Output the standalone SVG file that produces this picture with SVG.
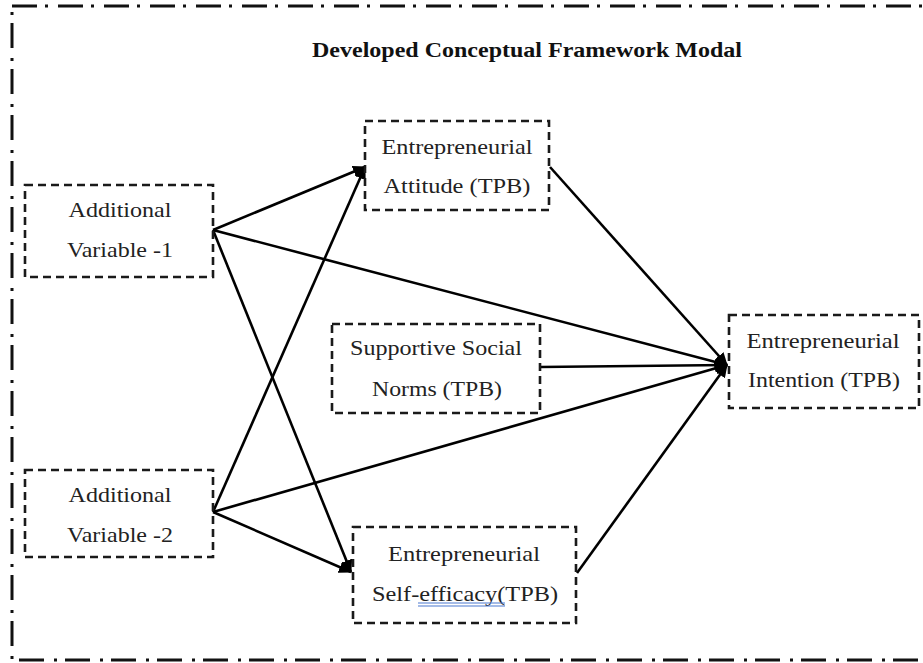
<svg xmlns="http://www.w3.org/2000/svg" width="923" height="663" viewBox="0 0 923 663">
<style>
.frame{fill:none;stroke:#111;stroke-width:3;stroke-dasharray:25 8 3 10}
.box{fill:none;stroke:#1a1a1a;stroke-width:2.6;stroke-dasharray:8 5}
.lbl{font-family:"Liberation Serif","Times New Roman",serif;font-size:22px;fill:#222;text-anchor:middle}
.title{font-family:"Liberation Serif","Times New Roman",serif;font-size:21px;font-weight:bold;fill:#111;text-anchor:middle}
.edge{stroke:#000;stroke-width:2.6;fill:none;marker-end:url(#ah)}
.ul{stroke:#4a78d0;stroke-width:1.2}
</style>
<defs>
<marker id="ah" markerUnits="userSpaceOnUse" markerWidth="14" markerHeight="12" refX="12" refY="6" orient="auto">
<path d="M0,0 L13,6 L0,12 z" fill="#000"/>
</marker>
</defs>
<rect width="923" height="663" fill="#fff"/>
<rect class="frame" x="12" y="6" width="1000" height="654"/>
<text class="title" x="527" y="57" textLength="430" lengthAdjust="spacingAndGlyphs">Developed Conceptual Framework Modal</text>
<g id="connectors">
<line class="edge" x1="213" y1="230" x2="365" y2="167"/>
<line class="edge" x1="213" y1="230" x2="727" y2="365"/>
<line class="edge" x1="213" y1="230" x2="351" y2="572"/>
<line class="edge" x1="213" y1="512" x2="365" y2="167"/>
<line class="edge" x1="213" y1="512" x2="727" y2="365"/>
<line class="edge" x1="213" y1="512" x2="351" y2="572"/>
<line class="edge" x1="550" y1="167" x2="727" y2="365"/>
<line class="edge" x1="540" y1="367" x2="727" y2="365"/>
<line class="edge" x1="577" y1="573" x2="727" y2="365"/>
</g>
<g id="av1">
<rect class="box" x="25" y="185" width="188" height="92"/>
<text class="lbl" x="120" y="217" textLength="103" lengthAdjust="spacingAndGlyphs">Additional</text>
<text class="lbl" x="120" y="257" textLength="106" lengthAdjust="spacingAndGlyphs">Variable -1</text>
</g>
<g id="av2">
<rect class="box" x="25" y="470" width="188" height="87"/>
<text class="lbl" x="120" y="502" textLength="103" lengthAdjust="spacingAndGlyphs">Additional</text>
<text class="lbl" x="120" y="542" textLength="106" lengthAdjust="spacingAndGlyphs">Variable -2</text>
</g>
<g id="attitude">
<rect class="box" x="365" y="121" width="184" height="89"/>
<text class="lbl" x="457" y="154" textLength="151" lengthAdjust="spacingAndGlyphs">Entrepreneurial</text>
<text class="lbl" x="457" y="193" textLength="147" lengthAdjust="spacingAndGlyphs">Attitude (TPB)</text>
</g>
<g id="norms">
<rect class="box" x="332" y="324" width="208" height="89"/>
<text class="lbl" x="436" y="355" textLength="172" lengthAdjust="spacingAndGlyphs">Supportive Social</text>
<text class="lbl" x="437" y="396" textLength="130" lengthAdjust="spacingAndGlyphs">Norms (TPB)</text>
</g>
<g id="intention">
<rect class="box" x="729" y="315" width="190" height="93"/>
<text class="lbl" x="823" y="348" textLength="153" lengthAdjust="spacingAndGlyphs">Entrepreneurial</text>
<text class="lbl" x="824" y="387" textLength="152" lengthAdjust="spacingAndGlyphs">Intention (TPB)</text>
</g>
<g id="selfefficacy">
<rect class="box" x="353" y="527" width="223" height="96"/>
<text class="lbl" x="464" y="561" textLength="152" lengthAdjust="spacingAndGlyphs">Entrepreneurial</text>
<text class="lbl" x="465" y="601" textLength="186" lengthAdjust="spacingAndGlyphs">Self-efficacy(TPB)</text>
<line class="ul" x1="418" y1="603" x2="505" y2="603"/>
<line class="ul" x1="418" y1="606" x2="505" y2="606"/>
</g>
</svg>
